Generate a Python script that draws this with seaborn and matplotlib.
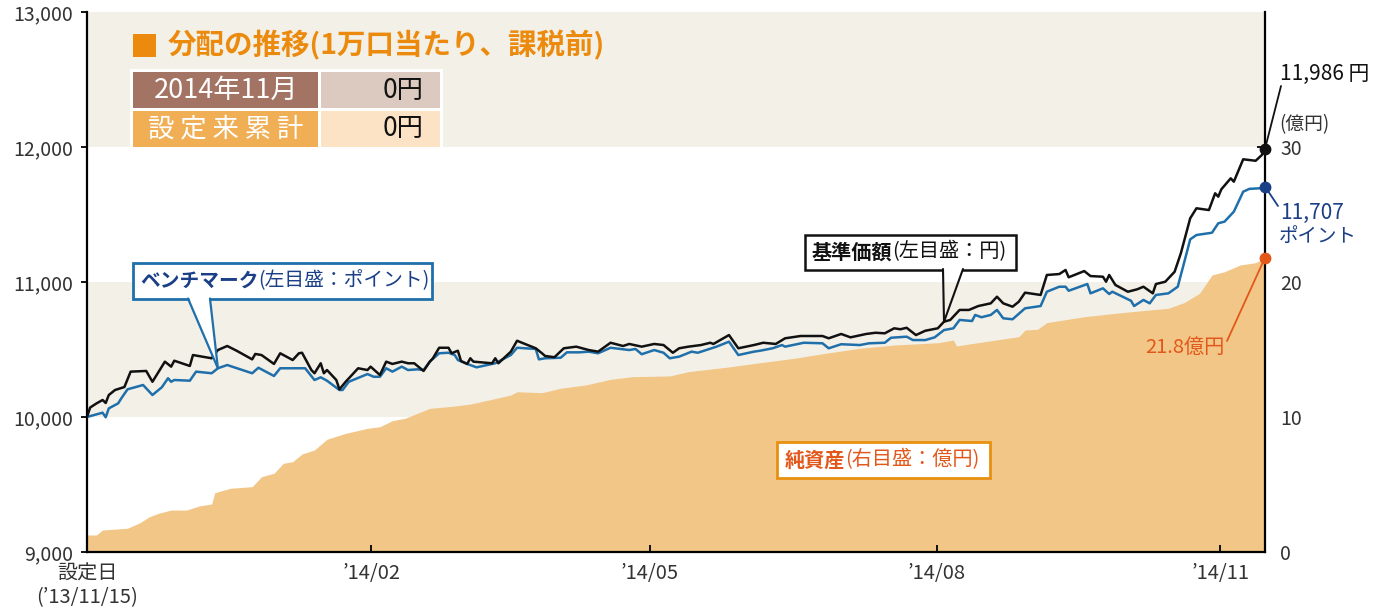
import numpy as np
import pandas as pd
import matplotlib
matplotlib.use("Agg")
import matplotlib.pyplot as plt
import seaborn as sns
from matplotlib.patches import Rectangle, Polygon
from matplotlib.lines import Line2D
from matplotlib.ticker import FuncFormatter

# ---------------- data ----------------
nav_day = [0, 1, 3, 5, 6, 7, 9, 12, 14, 19, 21, 25, 27, 28, 33, 34, 37, 40, 42, 45, 48, 53, 54, 56, 60, 62, 66,
           68, 69, 72, 73, 75, 76, 77, 80, 81, 83, 87, 90, 91, 94, 96, 98, 101, 103, 105, 108, 110, 111, 113,
           116, 117, 119, 120, 122, 123, 124, 130, 131, 132, 136, 138, 140, 144, 146, 147, 150, 153, 157, 161,
           164, 168, 172, 174, 178, 182, 185, 188, 190, 193, 197, 200, 201, 206, 209, 214, 217, 221, 224, 229,
           236, 238, 242, 245, 250, 253, 256, 259, 261, 263, 266, 269, 273, 275, 277, 280, 283, 286, 290, 292,
           294, 297, 299, 301, 306, 308, 312, 314, 315, 320, 322, 326, 327, 328, 330, 334, 337, 339, 342, 343,
           346, 349, 351, 354, 356, 360, 362, 363, 364, 367, 368, 371, 375, 377, 378]
nav_val = [10000, 10070, 10100, 10126, 10104, 10163, 10200, 10222, 10336, 10341, 10261, 10410, 10373, 10417,
           10378, 10459, 10447, 10435, 10496, 10526, 10491, 10427, 10467, 10459, 10393, 10472, 10422, 10472,
           10476, 10348, 10324, 10398, 10324, 10348, 10274, 10205, 10261, 10361, 10348, 10373, 10311, 10410,
           10393, 10410, 10398, 10398, 10341, 10410, 10435, 10513, 10513, 10472, 10491, 10415, 10393, 10435,
           10410, 10398, 10435, 10398, 10484, 10565, 10546, 10509, 10472, 10452, 10443, 10509, 10521, 10496,
           10484, 10550, 10526, 10541, 10521, 10541, 10533, 10476, 10509, 10521, 10533, 10550, 10541, 10607,
           10509, 10533, 10550, 10541, 10583, 10600, 10600, 10583, 10615, 10590, 10615, 10624, 10620, 10657,
           10650, 10661, 10607, 10639, 10657, 10706, 10719, 10793, 10793, 10822, 10842, 10891, 10842, 10817,
           10854, 10921, 10904, 11052, 11059, 11089, 11035, 11081, 11044, 11039, 11002, 11052, 10978, 10928,
           10946, 10965, 10916, 10985, 11002, 11076, 11213, 11472, 11546, 11533, 11657, 11632, 11687, 11768,
           11743, 11909, 11898, 11941, 11986]

bm_day = [0, 5, 6, 7, 10, 11, 13, 18, 21, 24, 26, 27, 28, 33, 35, 40, 42, 45, 53, 55, 60, 62, 67, 70, 73, 75,
          77, 81, 82, 84, 90, 92, 94, 96, 98, 101, 103, 106, 108, 110, 113, 116, 118, 119, 122, 125, 131, 136,
          138, 144, 145, 147, 152, 154, 158, 161, 164, 168, 174, 176, 178, 182, 185, 187, 190, 194, 196, 202,
          206, 209, 214, 216, 220, 223, 224, 230, 236, 238, 242, 248, 251, 256, 258, 263, 265, 269, 272, 275,
          278, 280, 284, 285, 287, 290, 292, 294, 297, 301, 306, 308, 312, 314, 315, 321, 322, 326, 328, 329,
          335, 336, 339, 341, 343, 347, 350, 352, 354, 356, 361, 363, 365, 368, 371, 373, 377, 378]
bm_val = [10000, 10032, 9998, 10064, 10101, 10138, 10205, 10237, 10163, 10220, 10287, 10261, 10274, 10269,
          10336, 10324, 10361, 10385, 10324, 10365, 10304, 10361, 10361, 10361, 10274, 10294, 10269, 10200,
          10200, 10261, 10318, 10298, 10298, 10361, 10336, 10373, 10348, 10353, 10348, 10410, 10472, 10476,
          10459, 10422, 10393, 10368, 10398, 10459, 10513, 10504, 10427, 10435, 10439, 10479, 10479, 10484,
          10472, 10513, 10496, 10504, 10465, 10496, 10476, 10435, 10447, 10484, 10476, 10521, 10558, 10459,
          10484, 10491, 10509, 10533, 10521, 10550, 10546, 10509, 10539, 10533, 10546, 10550, 10587, 10595,
          10570, 10570, 10590, 10644, 10657, 10719, 10711, 10756, 10739, 10756, 10793, 10731, 10724, 10805,
          10822, 10928, 10965, 10965, 10935, 10985, 10916, 10953, 10911, 10928, 10861, 10822, 10867, 10842,
          10904, 10916, 10965, 11139, 11316, 11348, 11365, 11435, 11447, 11521, 11669, 11690, 11695, 11707]

na_day = [0, 3, 5, 13, 17, 20, 23, 27, 32, 36, 40, 41, 46, 53, 56, 60, 63, 66, 69, 73, 77, 83, 90, 94, 98, 102,
          110, 118, 123, 129, 136, 138, 146, 152, 160, 168, 175, 187, 193, 205, 216, 227, 237, 248, 259, 273,
          278, 279, 288, 299, 301, 305, 308, 320, 330, 341, 347, 352, 357, 361, 365, 370, 375, 378]
na_val = [1.26, 1.26, 1.63, 1.76, 2.17, 2.61, 2.87, 3.11, 3.11, 3.41, 3.56, 4.39, 4.72, 4.84, 5.58, 5.83, 6.57,
          6.69, 7.26, 7.56, 8.35, 8.79, 9.16, 9.28, 9.73, 9.90, 10.64, 10.81, 10.96, 11.26, 11.63, 11.87, 11.80,
          12.13, 12.37, 12.79, 12.99, 13.04, 13.36, 13.68, 14.02, 14.35, 14.72, 15.09, 15.33, 15.50, 15.70,
          15.26, 15.58, 15.95, 16.44, 16.50, 16.99, 17.43, 17.68, 17.93, 18.05, 18.47, 19.16, 20.52, 20.76,
          21.26, 21.43, 21.8]

tick_days = [0, 91.2, 180.5, 272.7, 363.6]
tick_labels = ["設定日\n(’13/11/15)", "’14/02", "’14/05", "’14/08", "’14/11"]
left_ticks = [9000, 10000, 11000, 12000, 13000]
right_ticks = [0, 10, 20, 30]
band_ranges = [(10000, 11000), (12000, 13000)]

# ---------------- style ----------------
sns.set_theme(style="white")
FAM = ['Noto Sans CJK JP', 'DejaVu Sans']
plt.rcParams['font.family'] = FAM

BLACK = '#111111'
BLUE = '#1f6fab'
NAVY = '#1b3f87'
AREA = '#f2c687'
BEIGE = '#f3f0e8'
ORED = '#e2581b'
ORANGE = '#eb8a0c'
GRAY = '#333333'

W, H = 1386, 609
fig = plt.figure(figsize=(W / 100, H / 100), dpi=100)


def F(px, py):
    return (px / W, 1 - py / H)


ax = fig.add_axes([87 / W, 1 - 552 / H, (1265 - 87) / W, (552 - 12) / H])
ax2 = ax.twinx()
ax.set_zorder(2)
ax2.set_zorder(1)
ax.patch.set_visible(False)

ax.set_xlim(0, 378)
ax.set_ylim(9000, 13000)
ax2.set_ylim(0, 40)


def to_right(v):
    return (v - 9000) / 100.0


for lo, hi in band_ranges:
    ax2.axhspan(to_right(lo), to_right(hi), color=BEIGE, lw=0, zorder=0)

ax2.fill_between(na_day, na_val, 0, color=AREA, lw=0, zorder=1)

df_nav = pd.DataFrame({'day': nav_day, 'value': nav_val})
df_bm = pd.DataFrame({'day': bm_day, 'value': bm_val})
sns.lineplot(data=df_bm, x='day', y='value', ax=ax, color=BLUE, lw=1.8, estimator=None,
             errorbar=None, legend=False, zorder=3)
sns.lineplot(data=df_nav, x='day', y='value', ax=ax, color=BLACK, lw=1.8, estimator=None,
             errorbar=None, legend=False, zorder=4)

ax.set_xlim(0, 378)
ax.set_ylim(9000, 13000)
ax.set_xlabel('')
ax.set_ylabel('')
ax2.set_ylabel('')

ax.set_yticks(left_ticks)
ax.yaxis.set_major_formatter(FuncFormatter(lambda v, p: f"{v:,.0f}"))
ax.set_xticks(tick_days)
ax.set_xticklabels(tick_labels)
ax2.set_yticks(right_ticks)
ax.grid(False)
ax2.grid(False)

for s in ['top', 'right']:
    ax.spines[s].set_visible(False)
for s in ['left', 'bottom']:
    ax.spines[s].set_color('black')
    ax.spines[s].set_linewidth(1.6)
for s in ['top', 'left', 'bottom']:
    ax2.spines[s].set_visible(False)
ax2.spines['right'].set_color('black')
ax2.spines['right'].set_linewidth(1.6)

ax.tick_params(axis='y', which='major', left=True, direction='out', length=4, width=1.3,
               color='black', labelsize=14, labelcolor=GRAY, pad=6)
ax.tick_params(axis='x', which='major', bottom=True, direction='in', length=5, width=1.3,
               color='black', labelsize=14.5, labelcolor=GRAY, pad=8)
ax2.tick_params(axis='y', which='major', right=True, direction='in', length=6, width=1.3,
                color='black', labelsize=14, labelcolor=GRAY, pad=11)

# end markers
ax.plot([nav_day[-1]], [nav_val[-1]], 'o', ms=7.5, color=BLACK, clip_on=False, zorder=6)
ax.plot([bm_day[-1]], [bm_val[-1]], 'o', ms=7.5, color=NAVY, clip_on=False, zorder=6)
ax2.plot([na_day[-1]], [na_val[-1]], 'o', ms=7.5, color=ORED, clip_on=False, zorder=6)


def D2P(axis, x, y):
    d = axis.transData.transform((x, y))
    return d[0], H - d[1]


renderer = fig.canvas.get_renderer()


def mixed(px, py, parts, size):
    cur = px
    for s, weight, color in parts:
        t = fig.text(*F(cur, py), s, fontsize=size, fontweight=weight, color=color,
                     va='center', ha='left', family=FAM, zorder=10)
        cur += t.get_window_extent(renderer).width
    return cur


def rect(x0, y0, x1, y1, fc, ec='none', lw=0, z=8):
    r = Rectangle(F(x0, y1), (x1 - x0) / W, (y1 - y0) / H, transform=fig.transFigure,
                  facecolor=fc, edgecolor=ec, lw=lw, zorder=z)
    fig.add_artist(r)


def line(p0, p1, color, lw=1.3, z=9):
    fig.add_artist(Line2D([p0[0] / W, p1[0] / W], [1 - p0[1] / H, 1 - p1[1] / H],
                          transform=fig.transFigure, color=color, lw=lw, zorder=z))


# ---------------- header / table ----------------
rect(133, 34, 156, 57, ORANGE)
fig.text(*F(168, 45), "分配の推移(1万口当たり、課税前)", fontsize=20.5, fontweight='bold',
         color=ORANGE, va='center', ha='left', family=FAM, zorder=10)
rect(130, 69, 443, 150, 'white')
rect(133, 72, 318, 108, '#a37463', z=9)
rect(321, 72, 440, 108, '#dcc9bf', z=9)
rect(133, 111, 318, 147, '#f0ae55', z=9)
rect(321, 111, 440, 147, '#fde3c5', z=9)
fig.text(*F(226, 90), "2014年11月", fontsize=19.5, color='white', va='center', ha='center', family=FAM, zorder=10)
fig.text(*F(226, 129), "設 定 来 累 計", fontsize=19, color='white', va='center', ha='center', family=FAM, zorder=10)
fig.text(*F(424, 90), "0円", fontsize=19, color=BLACK, va='center', ha='right', family=FAM, zorder=10)
fig.text(*F(424, 129), "0円", fontsize=19, color=BLACK, va='center', ha='right', family=FAM, zorder=10)

# ---------------- benchmark label ----------------
rect(133, 263, 432, 299, 'white', ec=BLUE, lw=2)
mixed(140, 281, [("ベンチマーク", 'bold', NAVY), ("(左目盛：ポイント)", 'normal', NAVY)], 14.2)
tip = D2P(ax, 42, bm_val[bm_day.index(42)])
poly = Polygon([F(189, 297.5), F(*tip), F(209, 297.5)], closed=True, transform=fig.transFigure,
               facecolor='white', edgecolor='none', zorder=8.5)
fig.add_artist(poly)
line((188, 298.5), tip, BLUE, lw=1.6)
line((210, 298.5), tip, BLUE, lw=1.6)

# ---------------- NAV label ----------------
rect(805, 235, 1016, 270, 'white', ec=BLACK, lw=1.8)
mixed(812, 252, [("基準価額", 'bold', BLACK), ("(左目盛：円)", 'normal', BLACK)], 14.5)
tip2 = D2P(ax, 275, nav_val[nav_day.index(275)])
rect(944, 268, 962, 272, 'white', z=8.5)
line((943, 269), tip2, BLACK, lw=1.5)
line((963, 269), tip2, BLACK, lw=1.5)

# ---------------- net assets label ----------------
rect(777, 442, 990, 478, 'white', ec='#e8900f', lw=2)
mixed(785, 460, [("純資産", 'bold', ORED), ("(右目盛：億円)", 'normal', ORED)], 14.5)

# ---------------- right-side value labels ----------------
p_nav = D2P(ax, nav_day[-1], nav_val[-1])
p_bm = D2P(ax, bm_day[-1], bm_val[-1])
p_na = D2P(ax2, na_day[-1], na_val[-1])
line(p_nav, (1281, 86), BLACK, lw=1.3)
fig.text(*F(1280, 74), f"{nav_val[-1]:,} 円", fontsize=15, color=BLACK, va='center', ha='left', family=FAM, zorder=10)
fig.text(*F(1279, 125), "(億円)", fontsize=13.5, color=GRAY, va='center', ha='left', family=FAM, zorder=10)
line(p_bm, (1278, 206), NAVY, lw=1.3)
fig.text(*F(1280, 213), f"{bm_val[-1]:,}", fontsize=15, color=NAVY, va='center', ha='left', family=FAM, zorder=10)
fig.text(*F(1279, 236), "ポイント", fontsize=14, color=NAVY, va='center', ha='left', family=FAM, zorder=10)
line(p_na, (1227, 341), ORED, lw=1.3)
fig.text(*F(1224, 347), f"{na_val[-1]}億円", fontsize=14.5, color=ORED, va='center', ha='right', family=FAM, zorder=10)

fig.savefig("out.png", dpi=100)
